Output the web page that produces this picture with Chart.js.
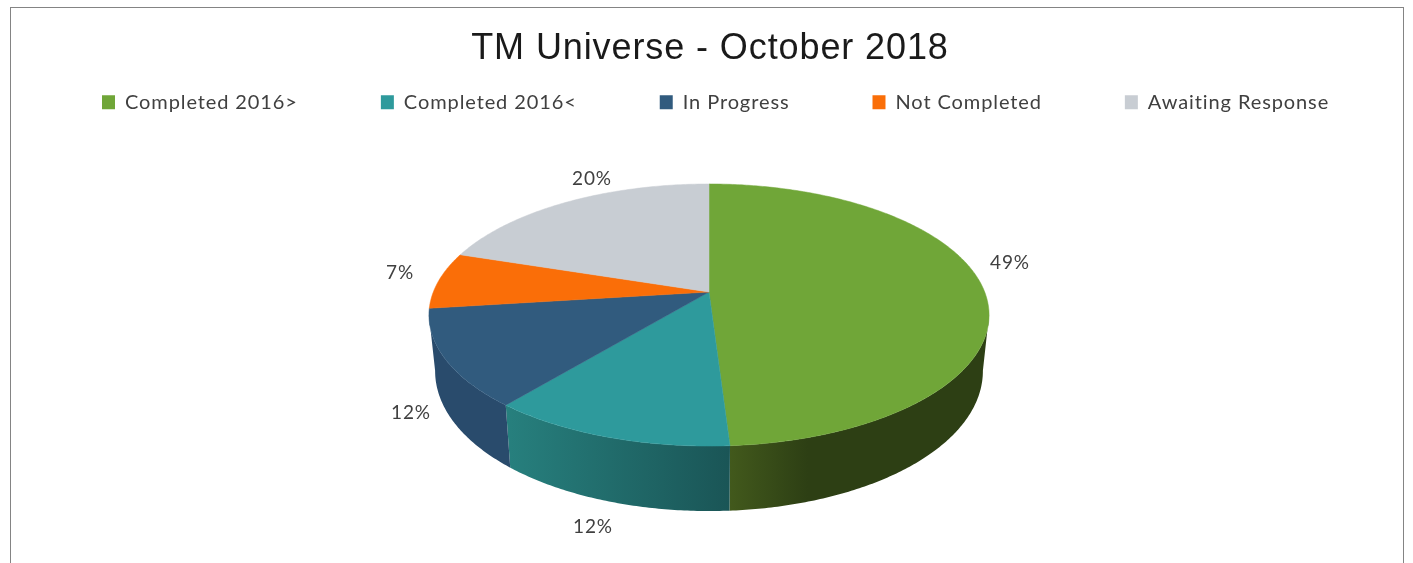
<!DOCTYPE html>
<html>
<head>
<meta charset="utf-8">
<title>TM Universe - October 2018</title>
<script src="https://cdn.jsdelivr.net/npm/chart.js@4"></script>
<style>
  html, body { margin: 0; padding: 0; background: #fff; overflow: hidden; }
  #wrap { position: relative; width: 1413px; height: 563px; }
  #frame { position: absolute; left: 10px; top: 7px; width: 1392px; height: 556px;
           border: solid #848484; border-width: 1px 1px 0 1px; }
  #myChart { position: absolute; left: 0; top: 0; filter: blur(0.4px); }
</style>
</head>
<body>
<div id="wrap">
  <div id="frame"></div>
  <canvas id="myChart" width="1413" height="563"></canvas>
</div>
<script>
// data
const categories = ['Completed 2016>', 'Completed 2016<', 'In Progress', 'Not Completed', 'Awaiting Response'];
const shares = [49, 12, 12, 7, 20];
const sliceColors = ['#70a638', '#2e9a9c', '#315b7e', '#fa6e08', '#c8cdd3'];

// side wall shades, light then dark, with where the dark starts along the slice
const wallLight = ['#42591c', '#27807e', '#294b6c', '#c4560a', '#9a9ea3'];
const wallDark = ['#2d3f14', '#1a5556', '#294b6c', '#c4560a', '#9a9ea3'];
const wallFade = [0.3, 1, 1, 1, 1];

// where the percent labels sit, same order as categories
const labelSpots = [[1010, 263], [593, 527], [411, 413], [400, 273], [592, 179]];

// tilted disc, Excel draws it with some perspective so the apex is not the middle
const apexX = 709, apexY = 292;
const spreadX = 275.7, spreadY = 127, tilt = -0.1756;
const wallShrink = 0.978;

function project(a) {
  const u = Math.cos(a), v = Math.sin(a), w = 1 + tilt * v;
  return { x: apexX + spreadX * u / w, y: apexY + spreadY * v / w };
}
function wallBottom(a) {
  const p = project(a);
  return { x: apexX + (p.x - apexX) * wallShrink, y: p.y + 54 + 11 * Math.sin(a) };
}
function sweep(from, to) {
  const out = [], n = Math.max(2, Math.ceil((to - from) / 0.01));
  for (let i = 0; i <= n; i++) out.push(from + (to - from) * i / n);
  return out;
}

// the arcs keep their angles from the library, this only changes how they get painted
const pie3d = {
  id: 'pie3d',
  // the reference text is stretched a bit wide
  beforeLayout(chart) { chart.ctx.letterSpacing = '0.9px'; },
  beforeDraw(chart) { chart.ctx.letterSpacing = '0.9px'; },
  // legend needs the full width to stay on one row, so nudge the boxes after the fit
  afterLayout(chart) {
    chart.titleBlock.left += 7;
    chart.legend.left += 19;
  },
  beforeDatasetsDraw(chart) {
    const ctx = chart.ctx;
    const arcs = chart.getDatasetMeta(0).data;
    const wallFrom = 10 * Math.PI / 180, wallTo = 170 * Math.PI / 180;

    ctx.save();
    arcs.forEach((arc, i) => {
      const from = Math.max(arc.startAngle, wallFrom), to = Math.min(arc.endAngle, wallTo);
      if (to <= from) return;
      const steps = sweep(from, to);
      const xs = steps.map(a => project(a).x);
      const x0 = Math.min(...xs), x1 = Math.max(...xs);
      // the light edge is always on the left of the wall piece
      const grad = ctx.createLinearGradient(x0, 0, x1, 0);
      grad.addColorStop(0, wallLight[i]);
      grad.addColorStop(wallFade[i], wallDark[i]);
      grad.addColorStop(1, wallDark[i]);
      ctx.beginPath();
      steps.forEach((a, k) => {
        const p = project(a);
        k ? ctx.lineTo(p.x, p.y) : ctx.moveTo(p.x, p.y);
      });
      steps.slice().reverse().forEach(a => {
        const p = wallBottom(a);
        ctx.lineTo(p.x, p.y);
      });
      ctx.closePath();
      ctx.fillStyle = grad;
      ctx.fill();
    });

    arcs.forEach((arc, i) => {
      ctx.beginPath();
      ctx.moveTo(apexX, apexY);
      sweep(arc.startAngle, arc.endAngle).forEach(a => {
        const p = project(a);
        ctx.lineTo(p.x, p.y);
      });
      ctx.closePath();
      ctx.fillStyle = sliceColors[i];
      ctx.strokeStyle = sliceColors[i];
      ctx.lineWidth = 0.5;
      ctx.fill();
      ctx.stroke();
    });

    ctx.font = '19px Lato';
    ctx.fillStyle = '#404040';
    ctx.textAlign = 'center';
    ctx.textBaseline = 'middle';
    shares.forEach((s, i) => ctx.fillText(s + '%', labelSpots[i][0], labelSpots[i][1]));
    ctx.restore();
    return false; // skip the flat pie
  }
};

// config
const config = {
  type: 'pie',
  data: {
    labels: categories,
    datasets: [{ data: shares, backgroundColor: sliceColors, borderWidth: 0 }]
  },
  options: {
    responsive: false,
    animation: false,
    plugins: {
      tooltip: { enabled: false },
      title: {
        display: true,
        text: 'TM Universe - October 2018',
        color: '#1a1a1a',
        font: { family: 'Liberation Sans', size: 36, weight: 'normal' },
        padding: { top: 27, bottom: -61 }
      },
      legend: {
        display: true,
        position: 'top',
        align: 'start',
        labels: {
          color: '#404040',
          font: { family: 'Lato', size: 20 },
          boxWidth: 13,
          boxHeight: 14,
          padding: 83
        }
      }
    }
  },
  plugins: [pie3d]
};

// render init block
const myChart = new Chart(document.getElementById('myChart'), config);
</script>
</body>
</html>
